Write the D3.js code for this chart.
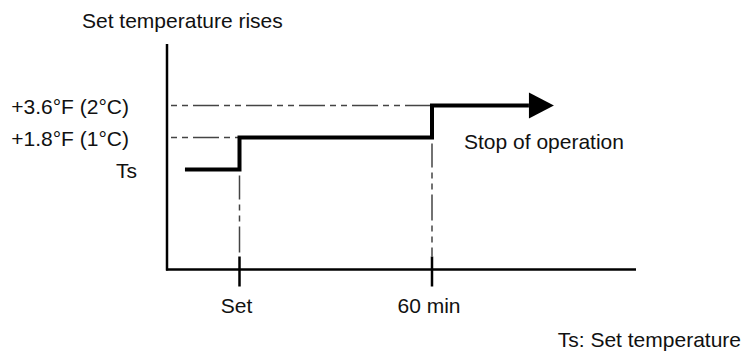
<!DOCTYPE html>
<html>
<head>
<meta charset="utf-8">
<script src="https://cdn.jsdelivr.net/npm/d3@7"></script>
<style>
  body { margin: 0; background: #fff; }
  svg text { font-family: "Liberation Sans", Arial, sans-serif; font-size: 21px; fill: #111; }
</style>
</head>
<body>
<svg id="chart" width="742" height="354"></svg>
<script>
    // time in minutes after setting, level in °C above Ts
    const stepTimes = [-17, 0, 60, 98];
    const stepLevels = [0, 1, 2];
    const levelValues = [0, 1, 2];
    const levelLabels = ['Ts', '+1.8°F (1°C)', '+3.6°F (2°C)'];
    const tickTimes = [0, 60];
    const tickLabels = ['Set', '60 min'];

    const svg = d3.select('#chart');

    // scales (pixel ranges)
    const x = d3.scaleLinear().domain([0, 60]).range([239.5, 432]);
    const y = d3.scaleLinear().domain([0, 2]).range([169.5, 105.5]);

    const axisX = 167,
        axisY = 269.5,
        axisTop = 44,
        axisRight = 636,
        dash = '26,5,6,5,6,5',
        dashColor = '#444';

    // axes
    svg.append('line')
        .attr('x1', axisX).attr('x2', axisX)
        .attr('y1', axisTop).attr('y2', axisY + 1)
        .attr('stroke', '#000').attr('stroke-width', 2.5);

    svg.append('line')
        .attr('x1', axisX - 1).attr('x2', axisRight)
        .attr('y1', axisY).attr('y2', axisY)
        .attr('stroke', '#000').attr('stroke-width', 2.5);

    svg.append('text')
        .attr('x', 82).attr('y', 28)
        .text('Set temperature rises');

    // ticks on the time axis
    const ticks = svg.append('g').classed('ticks', true);
    ticks.selectAll('line')
        .data(tickTimes)
        .join('line')
        .attr('x1', d => x(d)).attr('x2', d => x(d))
        .attr('y1', axisY - 13).attr('y2', axisY + 17)
        .attr('stroke', '#000').attr('stroke-width', 2.5);

    ticks.selectAll('text')
        .data(tickTimes)
        .join('text')
        .attr('x', d => x(d) - 3)
        .attr('y', 313)
        .attr('text-anchor', 'middle')
        .text((d, i) => tickLabels[i]);

    // level labels
    svg.selectAll('.level-label')
        .data(levelValues)
        .join('text')
        .classed('level-label', true)
        .attr('x', d => d === 0 ? axisX - 30 : axisX - 38)
        .attr('y', d => y(d) + 8)
        .attr('text-anchor', 'end')
        .text((d, i) => levelLabels[i]);

    // guide lines, horizontal from the axis to the step corner
    const guides = svg.append('g').classed('guides', true)
        .attr('stroke', dashColor)
        .attr('stroke-width', 1.5)
        .attr('stroke-dasharray', dash);

    guides.selectAll('.h-guide')
        .data(levelValues.slice(1))
        .join('line')
        .classed('h-guide', true)
        .attr('stroke-dashoffset', 28)
        .attr('x1', axisX + 1)
        .attr('x2', d => x(stepTimes[d]))
        .attr('y1', d => y(d)).attr('y2', d => y(d));

    // vertical guides from the step down to the ticks
    guides.selectAll('.v-guide')
        .data(tickTimes)
        .join('line')
        .classed('v-guide', true)
        .attr('stroke-dashoffset', 2)
        .attr('x1', d => x(d)).attr('x2', d => x(d))
        .attr('y1', (d, i) => y(stepLevels[i]) + 6)
        .attr('y2', axisY - 13);

    // the step line
    const arrowLen = 25,
        arrowHalf = 13;
    const stepPoints = [];
    stepLevels.forEach((lv, i) => {
        stepPoints.push([x(stepTimes[i]), y(lv)]);
        const end = i === stepLevels.length - 1 ? x(stepTimes[i + 1]) - arrowLen : x(stepTimes[i + 1]);
        stepPoints.push([end, y(lv)]);
    });

    svg.append('path')
        .attr('d', d3.line()(stepPoints))
        .attr('fill', 'none')
        .attr('stroke', '#000')
        .attr('stroke-width', 4)
        .attr('stroke-linejoin', 'miter')
        .attr('stroke-linecap', 'butt');

    const tipX = x(stepTimes[stepTimes.length - 1]),
        tipY = y(stepLevels[stepLevels.length - 1]);
    svg.append('path')
        .attr('d', d3.line()([
            [tipX - arrowLen, tipY - arrowHalf],
            [tipX, tipY],
            [tipX - arrowLen, tipY + arrowHalf]
        ]) + 'Z')
        .attr('fill', '#000');

    svg.append('text')
        .attr('x', 464).attr('y', 149)
        .text('Stop of operation');

    svg.append('text')
        .attr('x', 741).attr('y', 347)
        .attr('text-anchor', 'end')
        .text('Ts: Set temperature');
</script>
</body>
</html>
